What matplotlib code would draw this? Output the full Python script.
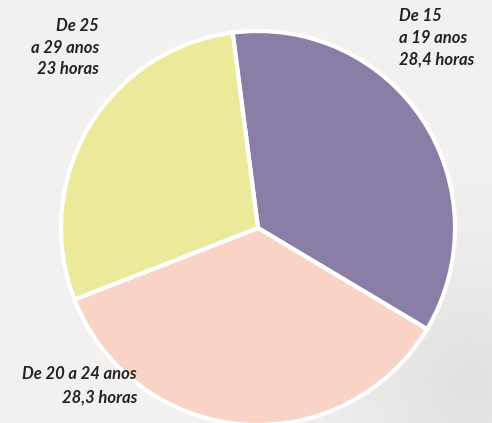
import numpy as np
import matplotlib
matplotlib.use('Agg')
import matplotlib.pyplot as plt

# horas semanais por faixa etária
faixas = ['De 15\na 19 anos\n28,4 horas', 'De 20 a 24 anos\n28,3 horas', 'De 25\na 29 anos\n23 horas']
horas = [28.4, 28.3, 23]
cores = ['#8a7ea6', '#f9d4c6', '#ebea9a']

W, H = 492, 423
fig = plt.figure(figsize=(W / 100, H / 100), dpi=100)
ax = fig.add_axes([0, 0, 1, 1])

# fundo claro, levemente acinzentado no canto inferior direito
yy, xx = np.mgrid[0:H, 0:W]
d = np.hypot(xx - 470, yy - 40) / 260.0
base = 0.955 - 0.07 * np.clip(1 - d, 0, 1) ** 1.5
bg = np.dstack([base, base - 0.008, base - 0.01])
ax.imshow(bg, extent=(0, W, 0, H), origin='lower', zorder=0)

cx, cy, r = 258, H - 228, 197
ax.pie(horas, colors=cores, startangle=97.4, counterclock=False, radius=r,
       center=(cx, cy), wedgeprops=dict(edgecolor='white', linewidth=3))
ax.set_xlim(0, W)
ax.set_ylim(0, H)
ax.set_aspect('auto')
ax.axis('off')

fonte = dict(family='Lato', weight='bold', style='italic', size=12, color='#222222')


def rotulo(texto, x, y, ha, passo=22):
    for i, linha in enumerate(texto.split('\n')):
        ax.text(x, H - (y + i * passo), linha, ha=ha, va='baseline', **fonte)


rotulo(faixas[0], 399, 21, 'left')
rotulo(faixas[2], 99, 31, 'right', 21.5)
rotulo(faixas[1], 137, 379, 'right', 24)

fig.savefig('out.png', dpi=100)
